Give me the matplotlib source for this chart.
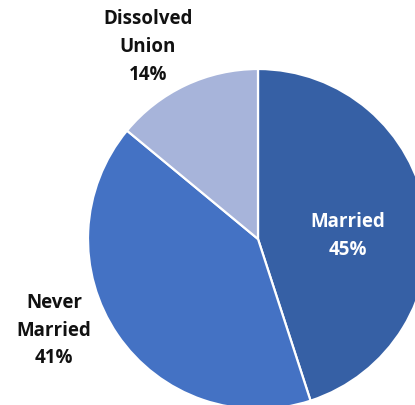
import matplotlib.pyplot as plt

# data
categories = ['Married', 'Never\nMarried', 'Dissolved\nUnion']
shares = [45, 41, 14]
colors = ['#3660A5', '#4472C4', '#A7B4DA']

W, H = 415, 406
fig = plt.figure(figsize=(W / 100, H / 100), dpi=100)
ax = fig.add_axes([0, 0, 1, 1])

cx, cy, r = 258, H - 240, 170
wedges, _ = ax.pie(shares, colors=colors, startangle=90, counterclock=False,
                   center=(cx, cy), radius=r, frame=True,
                   wedgeprops=dict(edgecolor='white', linewidth=1.6))
ax.set_xlim(0, W)
ax.set_ylim(0, H)
ax.axis('off')

# label anchor spots (pixels from top-left)
label_pos = [(348, 236), (54, 331), (148, 47)]
label_col = ['white', '#111111', '#111111']
for cat, val, (lx, ly), c in zip(categories, shares, label_pos, label_col):
    ax.text(lx, H - ly, f'{cat}\n{val}%', ha='center', va='center',
            fontsize=13.5, fontweight='bold', family='Open Sans', color=c,
            linespacing=1.5)

fig.savefig('out.png', dpi=100)
